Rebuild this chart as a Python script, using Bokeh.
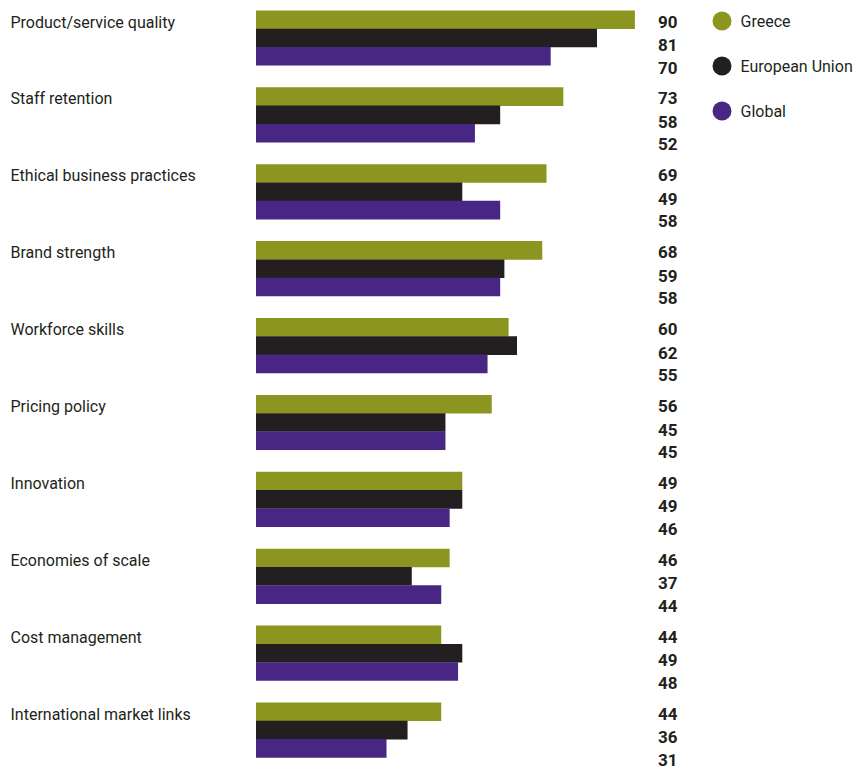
from bokeh.plotting import figure
from bokeh.models import ColumnDataSource, Range1d
from bokeh.core.properties import value
from bokeh.embed import file_html
from bokeh.resources import INLINE

categories = ["Product/service quality", "Staff retention", "Ethical business practices",
              "Brand strength", "Workforce skills", "Pricing policy", "Innovation",
              "Economies of scale", "Cost management", "International market links"]
series_names = ["Greece", "European Union", "Global"]
greece = [90, 73, 69, 68, 60, 56, 49, 46, 44, 44]
eu = [81, 58, 49, 59, 62, 45, 49, 37, 49, 36]
global_ = [70, 52, 58, 58, 55, 45, 46, 44, 48, 31]
colors = ["#8C951F", "#231F20", "#482683"]

W, H = 863, 769
x0_px = 255.5
px_per_unit = 4.21
grp_px = 76.9
grp0_px = 37.5

p = figure(width=W, height=H, output_backend="svg", toolbar_location=None,
           x_range=Range1d(-x0_px / px_per_unit, (W - x0_px) / px_per_unit),
           y_range=Range1d((H - grp0_px) / grp_px, -grp0_px / grp_px),
           min_border=0, outline_line_color=None)
p.axis.visible = False
p.grid.visible = False
p.background_fill_color = "white"
p.border_fill_color = "white"

font = value("Roboto")
idx = list(range(len(categories)))
bar_h = 18.6 / grp_px
bar_offsets = [-18.3 / grp_px, 0.0, 18.3 / grp_px]
label_offsets = [-16.5 / grp_px, 7.0 / grp_px, 29.5 / grp_px]

for vals, off, col, loff in zip([greece, eu, global_], bar_offsets, colors, label_offsets):
    src = ColumnDataSource(dict(y=[i + off for i in idx], v=vals,
                                ly=[i + loff for i in idx], t=[str(v) for v in vals]))
    p.hbar(y="y", left=0, right="v", height=bar_h, source=src, fill_color=col, line_color=None)
    p.text(x=(677 - x0_px) / px_per_unit, y="ly", text="t", source=src,
           text_align="right", text_baseline="middle", text_font=font,
           text_font_size="17px", text_font_style="bold", text_color="#231F20")

cat_src = ColumnDataSource(dict(y=[i - 16.0 / grp_px for i in idx], t=categories))
p.text(x=(10 - x0_px) / px_per_unit, y="y", text="t", source=cat_src,
       text_align="left", text_baseline="middle", text_font=font,
       text_font_size="16px", text_color="#231F20")

# legend
leg_y = [(20.5 - grp0_px) / grp_px, (65.5 - grp0_px) / grp_px, (110.5 - grp0_px) / grp_px]
leg_src = ColumnDataSource(dict(y=leg_y, c=colors, t=series_names))
p.scatter(x=(721.5 - x0_px) / px_per_unit, y="y", size=19, fill_color="c",
          line_color=None, source=leg_src)
p.text(x=(740 - x0_px) / px_per_unit, y="y", text="t", source=leg_src,
       text_align="left", text_baseline="middle", text_font=font,
       text_font_size="16px", text_color="#231F20")

open("out.html", "w").write(file_html(p, INLINE))
